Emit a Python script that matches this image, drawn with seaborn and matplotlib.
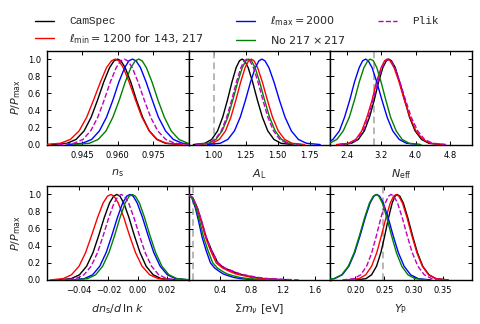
import matplotlib
matplotlib.use("Agg")
import matplotlib.pyplot as plt
from matplotlib.lines import Line2D
import seaborn as sns

sns.set_theme(style="ticks")
plt.rcParams["font.family"] = ["DejaVu Sans"]
plt.rcParams.update({
    "xtick.direction": "in", "ytick.direction": "in",
    "xtick.top": True, "ytick.right": True,
    "xtick.major.size": 3, "ytick.major.size": 3,
    "xtick.major.width": 0.7, "ytick.major.width": 0.7,
    "xtick.color": "black", "ytick.color": "black",
    "axes.linewidth": 1.0, "axes.edgecolor": "black",
    "xtick.labelsize": 6, "ytick.labelsize": 6,
    "xtick.major.pad": 4.5, "ytick.major.pad": 4.5,
    "mathtext.fontset": "dejavusans",
})

# ---- data -------------------------------------------------------------
SERIES = ["camspec", "lmin", "lmax", "no217", "plik"]
LABELS = ["CamSpec", r"$\ell_{\rm min}=1200$ for 143, 217", r"$\ell_{\rm max}=2000$",
          r"No $217\times217$", "Plik"]

# normalised posterior heights at which each curve's x positions were read
LEVELS = [0, 0.015, 0.06, 0.16, 0.32, 0.52, 0.73, 0.9, 0.98, 1.0,
          0.98, 0.9, 0.73, 0.52, 0.32, 0.16, 0.06, 0.015, 0]

NS_X = {
    "camspec": [0.9318, 0.9385, 0.9423, 0.9457, 0.9487, 0.9514, 0.9540, 0.9565, 0.9584, 0.9599,
                0.9613, 0.9631, 0.9655, 0.9679, 0.9705, 0.9733, 0.9765, 0.9802, 0.9865],
    "lmin": [0.9285, 0.9357, 0.9399, 0.9436, 0.9468, 0.9497, 0.9526, 0.9552, 0.9573, 0.9589,
             0.9604, 0.9623, 0.9648, 0.9675, 0.9702, 0.9733, 0.9767, 0.9806, 0.9874],
    "lmax": [0.9385, 0.9450, 0.9489, 0.9522, 0.9552, 0.9579, 0.9604, 0.9629, 0.9647, 0.9662,
             0.9677, 0.9696, 0.9720, 0.9746, 0.9772, 0.9802, 0.9835, 0.9874, 0.9939],
    "no217": [0.9414, 0.9479, 0.9517, 0.9550, 0.9579, 0.9606, 0.9631, 0.9655, 0.9674, 0.9688,
              0.9703, 0.9721, 0.9745, 0.9770, 0.9797, 0.9826, 0.9859, 0.9897, 0.9962],
    "plik": [0.9346, 0.9413, 0.9452, 0.9485, 0.9515, 0.9542, 0.9568, 0.9593, 0.9612, 0.9627,
             0.9642, 0.9661, 0.9686, 0.9712, 0.9739, 0.9769, 0.9803, 0.9842, 0.9908],
}
AL_X = {
    "camspec": [0.841, 0.931, 0.984, 1.030, 1.070, 1.107, 1.142, 1.175, 1.201, 1.221,
                1.242, 1.269, 1.304, 1.341, 1.380, 1.422, 1.470, 1.525, 1.620],
    "lmin": [0.894, 0.989, 1.044, 1.092, 1.134, 1.173, 1.210, 1.245, 1.272, 1.293,
             1.315, 1.343, 1.380, 1.419, 1.459, 1.504, 1.554, 1.612, 1.711],
    "lmax": [0.950, 1.051, 1.110, 1.162, 1.207, 1.248, 1.287, 1.325, 1.353, 1.376,
             1.400, 1.431, 1.471, 1.513, 1.557, 1.606, 1.661, 1.724, 1.832],
    "no217": [0.863, 0.960, 1.017, 1.066, 1.110, 1.149, 1.187, 1.223, 1.251, 1.273,
              1.295, 1.323, 1.359, 1.397, 1.436, 1.480, 1.529, 1.586, 1.683],
    "plik": [0.861, 0.956, 1.011, 1.059, 1.101, 1.140, 1.177, 1.212, 1.239, 1.260,
             1.282, 1.310, 1.346, 1.384, 1.423, 1.467, 1.516, 1.573, 1.670],
}
NEFF_X = {
    "camspec": [2.24, 2.51, 2.67, 2.81, 2.93, 3.04, 3.14, 3.24, 3.32, 3.38,
                3.44, 3.53, 3.63, 3.75, 3.86, 3.99, 4.14, 4.31, 4.60],
    "lmin": [2.16, 2.44, 2.61, 2.75, 2.87, 2.99, 3.09, 3.20, 3.28, 3.34,
             3.41, 3.50, 3.62, 3.74, 3.87, 4.01, 4.17, 4.35, 4.67],
    "lmax": [1.62, 1.91, 2.08, 2.23, 2.35, 2.47, 2.58, 2.69, 2.77, 2.84,
             2.90, 2.99, 3.10, 3.22, 3.34, 3.47, 3.62, 3.79, 4.09],
    "no217": [1.70, 2.00, 2.17, 2.32, 2.46, 2.58, 2.69, 2.80, 2.89, 2.95,
              3.02, 3.10, 3.20, 3.31, 3.42, 3.55, 3.69, 3.85, 4.13],
    "plik": [2.22, 2.49, 2.64, 2.78, 2.90, 3.01, 3.12, 3.22, 3.30, 3.36,
             3.43, 3.52, 3.64, 3.77, 3.90, 4.05, 4.21, 4.40, 4.72],
}
NRUN_X = {
    "camspec": [-0.0552, -0.0455, -0.0398, -0.0349, -0.0305, -0.0266, -0.0228, -0.0192, -0.0164, -0.0142,
                -0.0121, -0.0094, -0.0059, -0.0022, 0.0017, 0.0059, 0.0107, 0.0162, 0.0257],
    "lmin": [-0.0600, -0.0510, -0.0453, -0.0401, -0.0356, -0.0315, -0.0274, -0.0236, -0.0206, -0.0183,
             -0.0161, -0.0132, -0.0094, -0.0055, -0.0014, 0.0031, 0.0083, 0.0142, 0.0243],
    "lmax": [-0.0462, -0.0365, -0.0308, -0.0259, -0.0215, -0.0176, -0.0138, -0.0102, -0.0074, -0.0052,
             -0.0030, -0.0002, 0.0034, 0.0072, 0.0111, 0.0155, 0.0204, 0.0261, 0.0358],
    "no217": [-0.0439, -0.0343, -0.0287, -0.0239, -0.0196, -0.0157, -0.0120, -0.0085, -0.0057, -0.0036,
              -0.0015, 0.0013, 0.0048, 0.0085, 0.0124, 0.0167, 0.0215, 0.0271, 0.0367],
    "plik": [-0.0521, -0.0424, -0.0367, -0.0318, -0.0274, -0.0235, -0.0197, -0.0161, -0.0133, -0.0111,
             -0.0089, -0.0061, -0.0025, 0.0013, 0.0052, 0.0096, 0.0145, 0.0202, 0.0299],
}
YP_X = {
    "camspec": [0.2015, 0.2182, 0.2279, 0.2364, 0.2439, 0.2506, 0.2571, 0.2633, 0.2681, 0.2718,
                0.2764, 0.2824, 0.2900, 0.2981, 0.3065, 0.3158, 0.3264, 0.3385, 0.3592],
    "lmin": [0.1865, 0.2063, 0.2179, 0.2280, 0.2369, 0.2449, 0.2527, 0.2600, 0.2657, 0.2701,
             0.2748, 0.2809, 0.2887, 0.2970, 0.3056, 0.3151, 0.3258, 0.3382, 0.3594],
    "lmax": [0.1419, 0.1644, 0.1776, 0.1890, 0.1991, 0.2083, 0.2171, 0.2254, 0.2319, 0.2369,
             0.2418, 0.2481, 0.2563, 0.2649, 0.2739, 0.2838, 0.2950, 0.3079, 0.3300],
    "no217": [0.1408, 0.1633, 0.1765, 0.1880, 0.1981, 0.2072, 0.2160, 0.2243, 0.2308, 0.2358,
              0.2404, 0.2464, 0.2540, 0.2621, 0.2705, 0.2798, 0.2904, 0.3025, 0.3232],
    "plik": [0.1779, 0.1977, 0.2093, 0.2194, 0.2283, 0.2363, 0.2441, 0.2514, 0.2571, 0.2615,
             0.2663, 0.2725, 0.2805, 0.2890, 0.2977, 0.3074, 0.3184, 0.3311, 0.3527],
}
# sum of neutrino masses: one-sided curves, heights and x positions
SM_LEVELS = [1.0, 0.96, 0.84, 0.68, 0.5, 0.35, 0.2, 0.14, 0.1, 0.07, 0.05, 0.03, 0.015, 0.0]
SM_X = {
    "camspec": [0, 0.054, 0.112, 0.166, 0.222, 0.29, 0.37, 0.45, 0.56, 0.64, 0.73, 0.84, 0.96, 1.25],
    "lmin": [0, 0.052, 0.108, 0.161, 0.215, 0.275, 0.35, 0.43, 0.52, 0.60, 0.70, 0.80, 0.92, 1.2],
    "lmax": [0, 0.041, 0.086, 0.128, 0.171, 0.22, 0.277, 0.33, 0.39, 0.44, 0.50, 0.57, 0.66, 0.86],
    "no217": [0, 0.046, 0.095, 0.142, 0.19, 0.243, 0.306, 0.365, 0.43, 0.49, 0.56, 0.65, 0.76, 0.98],
    "plik": [0, 0.054, 0.113, 0.168, 0.225, 0.29, 0.375, 0.46, 0.57, 0.66, 0.76, 0.88, 1.02, 1.4],
}

NS_TICKS = [0.945, 0.960, 0.975]
AL_TICKS = [1.00, 1.25, 1.50, 1.75]
NEFF_TICKS = [2.4, 3.2, 4.0, 4.8]
NRUN_TICKS = [-0.04, -0.02, 0.00, 0.02]
SM_TICKS = [0.4, 0.8, 1.2, 1.6]
YP_TICKS = [0.20, 0.25, 0.30, 0.35]
Y_TICKS = [0.0, 0.2, 0.4, 0.6, 0.8, 1.0]

# ---- styling ------------------------------------------------------------
COLORS = {"camspec": "#000000", "lmin": "#ff0000", "lmax": "#0000ff", "no217": "#008000", "plik": "#bf00bf"}
STYLES = {s: ("--" if s == "plik" else "-") for s in SERIES}

fig, axes = plt.subplots(2, 3, figsize=(4.8, 3.24), dpi=100)
fig.subplots_adjust(left=0.098, right=0.983, bottom=0.136, top=0.844, wspace=0, hspace=0.44)

panels = [
    (axes[0, 0], NS_X, LEVELS, (0.93, 0.99), NS_TICKS, "%.3f", r"$n_{\rm s}$", None),
    (axes[0, 1], AL_X, LEVELS, (0.804, 1.91), AL_TICKS, "%.2f", r"$A_{\rm L}$", 1.0),
    (axes[0, 2], NEFF_X, LEVELS, (2.017, 5.31), NEFF_TICKS, "%.1f", r"$N_{\rm eff}$", 3.046),
    (axes[1, 0], NRUN_X, LEVELS, (-0.062, 0.035), NRUN_TICKS, "%.2f", r"$dn_{\rm s}/d\,\ln\,k$", None),
    (axes[1, 1], SM_X, SM_LEVELS, (0.0, 1.8), SM_TICKS, "%.1f", r"$\Sigma m_\nu$ [eV]", 0.06),
    (axes[1, 2], YP_X, LEVELS, (0.157, 0.40), YP_TICKS, "%.2f", r"$Y_{\rm P}$", 0.2477),
]

for ax, xdata, ylev, xlim, ticks, fmt, xlabel, vline in panels:
    if vline is not None:
        ax.axvline(vline, color="#aaaaaa", lw=1.2, ls=(0, (4, 2.5)), zorder=1)
    for s in SERIES:
        sns.lineplot(x=xdata[s], y=ylev, ax=ax, color=COLORS[s], lw=1.0, sort=False,
                     estimator=None, linestyle=STYLES[s], zorder=3)
    ax.set_xlim(*xlim)
    ax.set_ylim(0, 1.1)
    ax.set_xticks(ticks)
    ax.set_xticklabels([(fmt % t).replace("-", "\u2212") for t in ticks])
    ax.set_yticks(Y_TICKS)
    ax.set_xlabel(xlabel, fontsize=8, labelpad=5)
    if ax in (axes[0, 0], axes[1, 0]):
        ax.set_yticklabels(["%.1f" % v for v in Y_TICKS])
        ax.set_ylabel(r"$P/P_{\rm max}$", fontsize=8, labelpad=3)
    else:
        ax.set_yticklabels([])
        ax.set_ylabel("")

handles = [Line2D([], [], color=COLORS[s], lw=1.0, ls=STYLES[s]) for s in SERIES]
leg = fig.legend(handles, LABELS, loc="upper left", bbox_to_anchor=(0.064, 0.969),
                 ncol=3, frameon=False, fontsize=8, handlelength=1.7, handletextpad=1.35,
                 columnspacing=2.9, labelspacing=0.5, borderaxespad=0, borderpad=0.4)
for t in leg.get_texts():
    if t.get_text() in ("CamSpec", "Plik"):
        t.set_family("Liberation Mono")

fig.savefig("out.png", dpi=100)
